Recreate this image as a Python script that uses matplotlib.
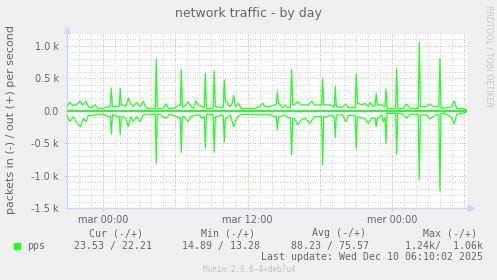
import matplotlib
matplotlib.use('Agg')
import matplotlib.pyplot as plt

# (hours from Tue "mar" 00:00, packets/s)
out_pts = [
    (-3.05, 64), (-2.77, 131), (-2.50, 74), (-2.08, 115), (-1.94, 151), (-1.71, 90),
    (-1.44, 151), (-1.25, 64), (-0.97, 48), (-0.69, 90), (-0.42, 38), (0.0, 38),
    (0.42, 64), (0.58, 60), (0.67, 347), (0.76, 60), (0.83, 64), (1.16, 64), (1.32, 64),
    (1.41, 347), (1.50, 80), (1.61, 90), (1.86, 64), (2.08, 192), (2.27, 115), (2.50, 64),
    (2.77, 131), (3.05, 64), (3.33, 141), (3.55, 48), (3.89, 38), (4.22, 38), (4.33, 38),
    (4.41, 794), (4.49, 38), (4.58, 38), (4.99, 38), (5.22, 105), (5.41, 38), (5.82, 38),
    (6.16, 64), (6.33, 90), (6.41, 80), (6.49, 640), (6.58, 64), (6.72, 64), (7.07, 141),
    (7.27, 64), (7.49, 38), (7.71, 151), (7.90, 90), (8.19, 64), (8.40, 50), (8.49, 580),
    (8.58, 40), (8.69, 38), (9.02, 38), (9.14, 40), (9.23, 615), (9.32, 64), (9.43, 64),
    (9.79, 48), (9.98, 50), (10.07, 477), (10.16, 140), (10.27, 141), (10.48, 64),
    (10.68, 90), (10.85, 236), (11.01, 64), (11.23, 115), (11.46, 38), (11.79, 38),
    (12.21, 38), (12.62, 38), (13.04, 64), (13.26, 118), (13.45, 64), (13.87, 64),
    (14.28, 90), (14.39, 100), (14.48, 297), (14.57, 115), (14.62, 115), (14.89, 48),
    (15.12, 90), (15.34, 48), (15.58, 50), (15.67, 640), (15.76, 90), (15.89, 90),
    (16.17, 141), (16.45, 90), (16.78, 90), (17.06, 90), (17.34, 151), (17.56, 90),
    (17.84, 90), (18.16, 90), (18.25, 503), (18.34, 90), (18.45, 90), (18.86, 90),
    (19.15, 64), (19.22, 64), (19.30, 374), (19.39, 64), (19.47, 64), (19.83, 48),
    (20.19, 105), (20.38, 48), (20.80, 48), (20.96, 50), (21.05, 565), (21.14, 115),
    (21.21, 115), (21.50, 90), (21.77, 115), (22.05, 64), (22.19, 131), (22.46, 64),
    (22.62, 80), (22.71, 272), (22.80, 90), (22.88, 90), (23.16, 90), (23.35, 64),
    (23.44, 64), (23.52, 338), (23.61, 38), (23.71, 38), (23.99, 38), (24.18, 38),
    (24.32, 38), (24.41, 656), (24.50, 38), (24.60, 38), (24.96, 38), (25.24, 103),
    (25.52, 38), (25.93, 38), (26.20, 38), (26.29, 1056), (26.38, 64), (26.49, 64),
    (26.90, 64), (27.18, 105), (27.46, 64), (27.74, 64), (27.92, 64), (28.01, 810),
    (28.10, 38), (28.24, 38), (28.57, 48), (28.99, 64), (29.20, 154), (29.40, 38),
    (29.81, 38), (30.17, 22),
]
in_pts = [
    (-3.05, 65), (-2.77, 168), (-2.50, 91), (-2.08, 219), (-1.88, 245), (-1.66, 116),
    (-1.44, 168), (-1.25, 75), (-0.83, 65), (-0.55, 54), (0.0, 54), (0.42, 91), (0.58, 80),
    (0.67, 363), (0.76, 65), (0.83, 65), (1.16, 91), (1.32, 91), (1.41, 363), (1.50, 91),
    (1.66, 91), (1.86, 116), (2.08, 245), (2.30, 91), (2.50, 168), (2.77, 91), (3.05, 168),
    (3.33, 65), (3.61, 54), (4.16, 54), (4.33, 54), (4.41, 810), (4.49, 54), (4.64, 54),
    (5.22, 116), (5.55, 54), (6.16, 91), (6.33, 116), (6.41, 100), (6.49, 641), (6.58, 91),
    (6.72, 91), (7.07, 168), (7.27, 91), (7.71, 65), (8.04, 65), (8.19, 116), (8.40, 80),
    (8.49, 579), (8.58, 60), (8.74, 54), (9.14, 60), (9.23, 641), (9.32, 91), (9.51, 91),
    (9.84, 65), (9.98, 70), (10.07, 476), (10.16, 116), (10.27, 116), (10.56, 65),
    (10.85, 245), (11.10, 116), (11.37, 65), (11.79, 54), (12.21, 54), (12.62, 54),
    (13.04, 65), (13.45, 54), (13.87, 65), (14.28, 91), (14.39, 91), (14.48, 296),
    (14.57, 91), (14.70, 91), (15.12, 65), (15.40, 106), (15.58, 106), (15.67, 682),
    (15.76, 116), (15.89, 116), (16.17, 219), (16.45, 142), (16.78, 116), (17.20, 193),
    (17.56, 91), (17.84, 91), (18.16, 91), (18.25, 836), (18.34, 91), (18.58, 91),
    (18.99, 65), (19.15, 91), (19.22, 100), (19.30, 415), (19.39, 65), (19.55, 65),
    (19.91, 65), (20.19, 168), (20.38, 75), (20.80, 75), (20.96, 75), (21.05, 589),
    (21.14, 91), (21.21, 91), (21.50, 116), (21.77, 116), (22.05, 193), (22.32, 116),
    (22.62, 116), (22.71, 245), (22.80, 116), (22.88, 116), (23.16, 65), (23.30, 168),
    (23.44, 100), (23.52, 502), (23.61, 39), (23.71, 39), (23.99, 39), (24.32, 39),
    (24.41, 672), (24.50, 39), (24.60, 39), (24.96, 54), (25.24, 116), (25.52, 54),
    (25.93, 54), (26.20, 54), (26.29, 1057), (26.38, 65), (26.49, 65), (26.90, 65),
    (27.18, 127), (27.60, 65), (27.92, 65), (28.01, 1237), (28.10, 39), (28.24, 39),
    (28.57, 54), (28.99, 106), (29.20, 204), (29.40, 54), (29.81, 39), (30.17, 24),
]

x_ticks = [0, 12, 24]
x_labels = ['mar 00:00', 'mar 12:00', 'mer 00:00']
y_ticks = [1000, 500, 0, -500, -1000, -1500]
y_labels = ['1.0 k', '0.5 k', '0.0', '-0.5 k', '-1.0 k', '-1.5 k']

legend_cols = ['Cur (-/+)', 'Min (-/+)', 'Avg (-/+)', 'Max (-/+)']
legend_vals = ['23.53 / 22.21', '14.89 / 13.28', '88.23 / 75.57', '1.24k/  1.06k']

FONT = '#666666'
AXIS = '#CFD6F8'
GREEN = '#22ff22'

fig = plt.figure(figsize=(4.97, 2.80), dpi=100, facecolor='#f0f0f0')
ax = fig.add_axes([67/497, 72/280, 400/497, 175/280])
ax.set_facecolor('white')
ax.set_xlim(-3.02, 30.26)
ax.set_ylim(-1500, 1200)

# rrdtool style grid: grey every hour / 100, red every 6 h / 500
for h in range(-3, 31):
    c = '#f0a8a8' if h % 6 == 0 else '#d4d4d4'
    ax.axvline(h, color=c, lw=0.72, dashes=(1, 1.5), zorder=1)
for v in range(-1500, 1201, 100):
    c = '#f0a8a8' if v % 500 == 0 else '#d4d4d4'
    ax.axhline(v, color=c, lw=0.72, dashes=(1, 1.5), zorder=1)

out_h, out_v = zip(*out_pts)
in_h, in_v = zip(*in_pts)
ax.axhline(0, color=GREEN, lw=1.5, zorder=3)
ax.plot(out_h, out_v, color=GREEN, lw=0.9, zorder=4)
ax.plot(in_h, [-v for v in in_v], color=GREEN, lw=0.9, zorder=4)

for s in ['top', 'right']:
    ax.spines[s].set_visible(False)
for s in ['left', 'bottom']:
    ax.spines[s].set_color(AXIS)
    ax.spines[s].set_linewidth(1)

ax.set_xticks(x_ticks)
ax.set_xticklabels(x_labels)
ax.set_yticks(y_ticks)
ax.set_yticklabels(y_labels)
ax.tick_params(length=2, color=AXIS, labelcolor=FONT, labelsize=7, pad=4)
ax.tick_params(axis='x', pad=3)

# axis arrows
ax.plot([0], [1.02], marker='^', ms=4.5, color=AXIS, transform=ax.transAxes, clip_on=False)
ax.plot([1.01], [0], marker='>', ms=4.5, color=AXIS, transform=ax.transAxes, clip_on=False)
ax.plot([0, 0], [1.0, 1.02], color=AXIS, lw=1, transform=ax.transAxes, clip_on=False)
ax.plot([1.0, 1.01], [0, 0], color=AXIS, lw=1, transform=ax.transAxes, clip_on=False)

fig.text(0.5, 1 - 13/280, 'network traffic - by day', ha='center', va='center',
         fontsize=9, color=FONT)
fig.text(11/497, 1 - 119/280, 'packets in (-) / out (+) per second', rotation=90,
         ha='center', va='center', fontsize=8, color=FONT)
fig.text(489/497, 1 - 56/280, 'RRDTOOL / TOBI OETIKER', rotation=270,
         ha='center', va='center', fontsize=5.8, color='#c8c8c8')

# legend block
mono = 'DejaVu Sans Mono'
col_x = [116, 228, 339, 450]
for cx, t in zip(col_x, legend_cols):
    fig.text(cx/497, 1 - 233/280, t, ha='center', va='center', fontsize=7.1,
             family=mono, color=FONT)
val_x = [152.5, 260, 369, 483]
for vx, t in zip(val_x, legend_vals):
    fig.text(vx/497, 1 - 246/280, t, ha='right', va='center', fontsize=7.1,
             family=mono, color=FONT)
fig.patches.append(plt.Rectangle((14/497, 1 - 248.5/280), 6/497, 6/280,
                                 color=GREEN, transform=fig.transFigure))
fig.text(27/497, 1 - 246/280, 'pps', ha='left', va='center', fontsize=7.1,
         family=mono, color=FONT)
fig.text(483/497, 1 - 257.5/280, 'Last update: Wed Dec 10 06:10:02 2025', ha='right',
         va='center', fontsize=7.1, family=mono, color=FONT)
fig.text(249/497, 1 - 269/280, 'Munin 2.0.6-4+deb7u4', ha='center', va='center',
         fontsize=5.6, family=mono, color='#c0c0c0')

fig.savefig('out.png', dpi=100, facecolor=fig.get_facecolor())
